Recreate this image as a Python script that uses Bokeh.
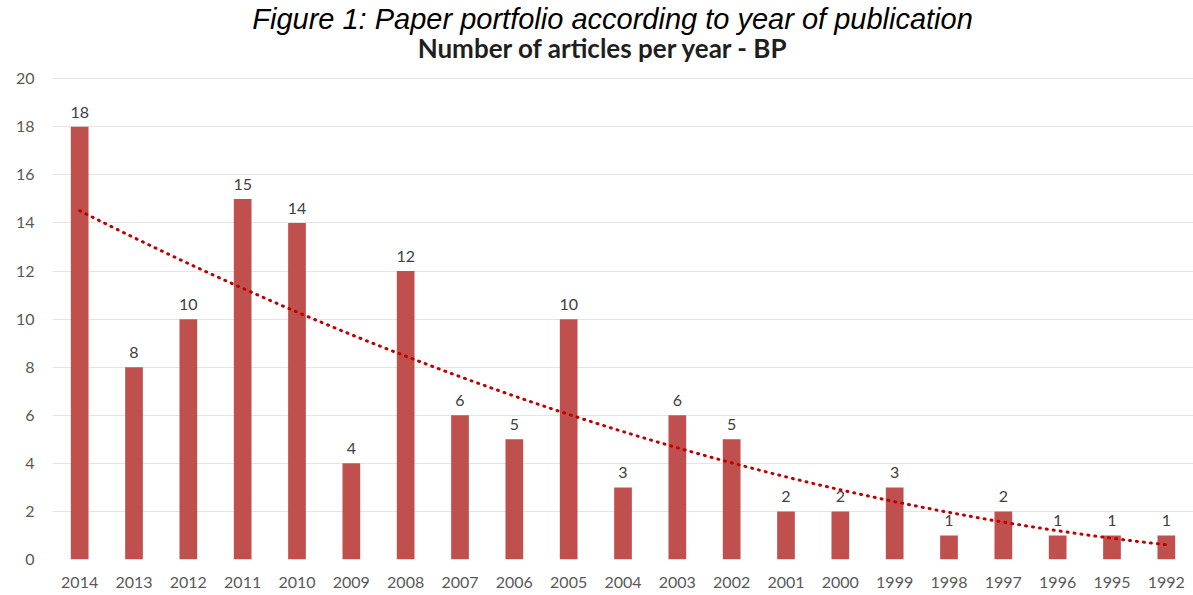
import numpy as np
from bokeh.plotting import figure
from bokeh.models import ColumnDataSource, FixedTicker, Range1d, Label, LabelSet
from bokeh.core.properties import value
from bokeh.embed import file_html
from bokeh.resources import INLINE

# Publications per year, newest first
years = ["2014", "2013", "2012", "2011", "2010", "2009", "2008", "2007", "2006", "2005", "2004",
         "2003", "2002", "2001", "2000", "1999", "1998", "1997", "1996", "1995", "1992"]
articles = [18, 8, 10, 15, 14, 4, 12, 6, 5, 10, 3, 6, 5, 2, 2, 3, 1, 2, 1, 1, 1]
y_ticks = [0, 2, 4, 6, 8, 10, 12, 14, 16, 18, 20]

caption = "Figure 1: Paper portfolio according to year of publication"
title = "Number of articles per year - BP"

BAR = "#C0504D"
TREND = "#C00000"

idx = np.arange(len(years))
src = ColumnDataSource(dict(x=idx, top=articles, label=[str(v) for v in articles]))

# plot area reaches the top edge; the value axis stops at 20 and the headings sit above it
y_top = 23.256
p = figure(width=1193, height=595, x_range=Range1d(-0.5, len(years) - 0.5), y_range=Range1d(0, y_top),
           output_backend="svg", toolbar_location=None,
           min_border_left=52, min_border_right=0, min_border_top=0, min_border_bottom=36)
p.outline_line_color = None
p.background_fill_color = "white"
p.border_fill_color = "white"

p.vbar(x="x", top="top", width=0.326, source=src, fill_color=BAR, line_color=None)

# second-order polynomial trend through the yearly counts
coef = np.polyfit(idx, articles, 2)
xs = np.linspace(0, len(years) - 1, 300)
p.line(xs, np.polyval(coef, xs), line_color=TREND, line_width=3, line_dash="1 6", line_cap="round")

p.add_layout(LabelSet(x="x", y="top", text="label", source=src, text_font=value("Lato"),
                      text_font_size="16px", text_color="#404040", text_align="center",
                      text_baseline="alphabetic", y_offset=9))

# axes
p.xaxis.ticker = FixedTicker(ticks=list(idx))
p.xaxis.major_label_overrides = {int(i): y for i, y in enumerate(years)}
p.yaxis.ticker = FixedTicker(ticks=y_ticks)
for ax in (p.xaxis, p.yaxis):
    ax.axis_line_color = None
    ax.major_tick_line_color = None
    ax.minor_tick_line_color = None
    ax.major_tick_out = 0
    ax.major_label_text_font = "Lato"
    ax.major_label_text_font_size = "16px"
    ax.major_label_text_color = "#595959"
p.yaxis.major_label_standoff = 18
p.xaxis.major_label_standoff = 17

p.xgrid.grid_line_color = None
p.ygrid.ticker = FixedTicker(ticks=y_ticks)
p.ygrid.grid_line_color = "#E4E4E4"
p.ygrid.grid_line_width = 1

# figure caption and chart title
p.add_layout(Label(x=9.807, y=22.47, text=caption, text_font="Liberation Sans",
                   text_font_style="italic", text_font_size="29px", text_color="#000000",
                   text_align="center", text_baseline="alphabetic"))
p.add_layout(Label(x=9.641, y=21.29, text=title, text_font="Lato", text_font_style="bold",
                   text_font_size="26px", text_color="#1F1F1F", text_align="center",
                   text_baseline="alphabetic"))

open("out.html", "w").write(file_html(p, INLINE))
